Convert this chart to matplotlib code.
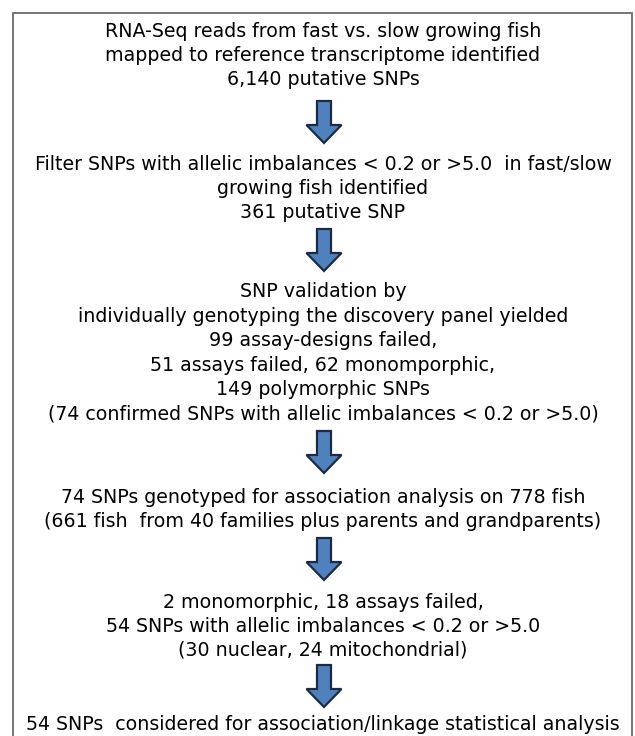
import matplotlib.pyplot as plt
from matplotlib.patches import FancyArrow

# text of each step in the flowchart
step1 = ["RNA-Seq reads from fast vs. slow growing fish",
         "mapped to reference transcriptome identified",
         "6,140 putative SNPs"]
step2 = ["Filter SNPs with allelic imbalances < 0.2 or >5.0  in fast/slow",
         "growing fish identified",
         "361 putative SNP"]
step3 = ["SNP validation by",
         "individually genotyping the discovery panel yielded",
         "99 assay-designs failed,",
         "51 assays failed, 62 monomporphic,",
         "149 polymorphic SNPs",
         "(74 confirmed SNPs with allelic imbalances < 0.2 or >5.0)"]
step4 = ["74 SNPs genotyped for association analysis on 778 fish",
         "(661 fish  from 40 families plus parents and grandparents)"]
step5 = ["2 monomorphic, 18 assays failed,",
         "54 SNPs with allelic imbalances < 0.2 or >5.0",
         "(30 nuclear, 24 mitochondrial)"]
step6 = ["54 SNPs  considered for association/linkage statistical analysis"]

steps = [step1, step2, step3, step4, step5, step6]

# layout in pixels (y grows downward)
W, H = 635, 736
cx = 323
block_top = [37, 170, 297, 503, 608, 730]   # baseline of first line per block
block_gap = [24, 24, 24.6, 24, 24, 24]
arrow_top = [101, 229, 431, 538, 665]
arrow_len = 42

fig = plt.figure(figsize=(W / 100, H / 100), dpi=100)
fig.set_facecolor('white')
ax = fig.add_axes([0, 0, 1, 1])
ax.set_xlim(0, W)
ax.set_ylim(H, 0)
ax.axis('off')

# outer frame (bottom edge is cut off in the original)
ax.plot([13, 13, 632, 632], [H + 5, 13, 13, H + 5], color='#6b6b6b', lw=1.3,
        solid_joinstyle='miter')

for lines, y0, gap in zip(steps, block_top, block_gap):
    for i, txt in enumerate(lines):
        ax.text(cx, y0 + i * gap, txt, ha='center', va='baseline',
                fontsize=13.7, family='DejaVu Sans', color='black')

for y0 in arrow_top:
    ax.add_patch(FancyArrow(324, y0, 0, arrow_len, width=14, head_width=35,
                            head_length=18, length_includes_head=True,
                            facecolor='#4f81bd', edgecolor='#1c2a44', lw=1.6))

fig.savefig('out.png', dpi=100)
